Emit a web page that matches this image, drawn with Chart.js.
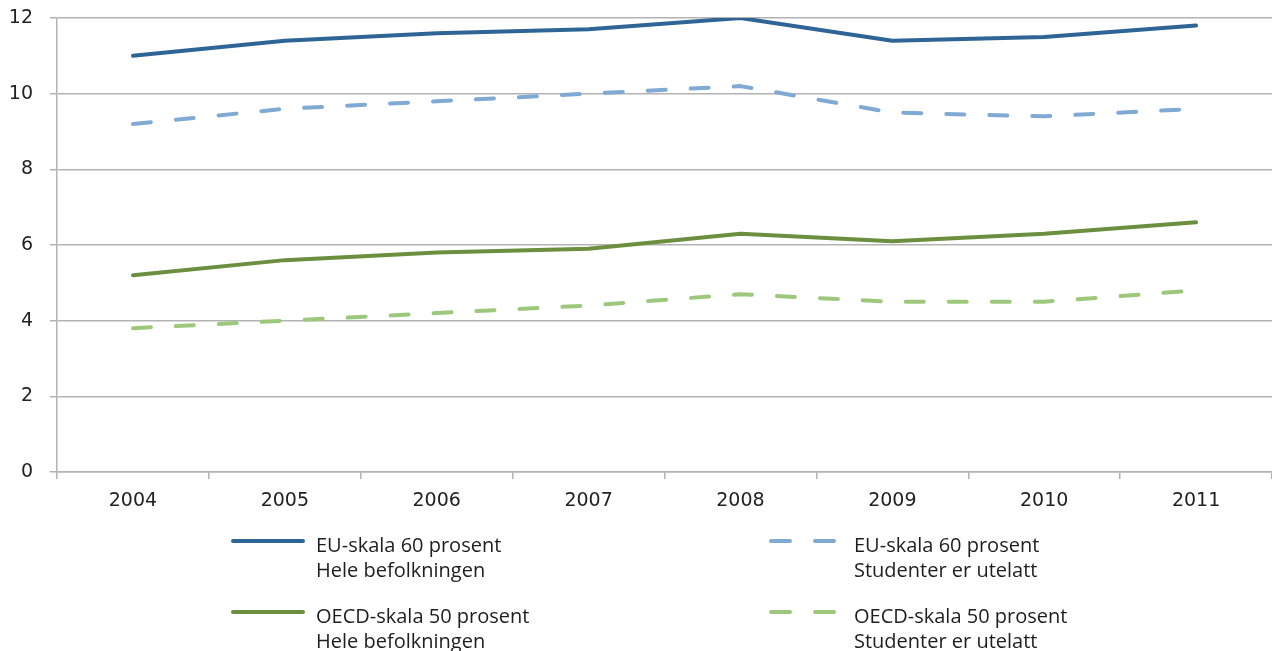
<!DOCTYPE html>
<html>
<head>
<meta charset="utf-8">
<script src="https://cdn.jsdelivr.net/npm/chart.js@4/dist/chart.umd.min.js"></script>
<style>
  html, body { margin: 0; padding: 0; background: #fff; }
  #wrap { width: 1272px; height: 651px; }
</style>
</head>
<body>
<div id="wrap"><canvas id="myChart"></canvas></div>
<script>
const years = ["2004", "2005", "2006", "2007", "2008", "2009", "2010", "2011"];

const euAll = [11.0, 11.4, 11.6, 11.7, 12.0, 11.4, 11.5, 11.8];
const euNoStudents = [9.2, 9.6, 9.8, 10.0, 10.2, 9.5, 9.4, 9.6];
const oecdAll = [5.2, 5.6, 5.8, 5.9, 6.3, 6.1, 6.3, 6.6];
const oecdNoStudents = [3.8, 4.0, 4.2, 4.4, 4.7, 4.5, 4.5, 4.8];

const seriesLabels = [
	["EU-skala 60 prosent", "Hele befolkningen"],
	["EU-skala 60 prosent", "Studenter er utelatt"],
	["OECD-skala 50 prosent", "Hele befolkningen"],
	["OECD-skala 50 prosent", "Studenter er utelatt"],
];

const yTicks = [0, 2, 4, 6, 8, 10, 12];

const gridColor = "#b3b3b3";
const tickFont = { family: "DejaVu Sans", size: 19 };

// legend drawn under the plot, two columns, two-line labels
const legendBelow = {
	id: "legendBelow",
	afterDraw(chart) {
		const ctx = chart.ctx;
		const slots = [
			{ x: 233, y: 541 },
			{ x: 771, y: 541 },
			{ x: 233, y: 612 },
			{ x: 771, y: 612 },
		];
		ctx.save();
		chart.data.datasets.forEach((ds, i) => {
			const s = slots[i];
			ctx.strokeStyle = ds.borderColor;
			ctx.lineWidth = 4;
			ctx.lineCap = "round";
			ctx.setLineDash(ds.borderDash.length ? [19, 25] : []);
			ctx.beginPath();
			ctx.moveTo(s.x, s.y);
			ctx.lineTo(s.x + 70, s.y);
			ctx.stroke();
			ctx.setLineDash([]);
			ctx.fillStyle = "#1e1e1e";
			ctx.font = "20px 'Open Sans'";
			ctx.textBaseline = "alphabetic";
			ds.label.forEach((line, k) => {
				ctx.fillText(line, s.x + 83, s.y + 11 + k * 24.5);
			});
		});
		ctx.restore();
	},
};

new Chart(document.getElementById("myChart"), {
	type: "line",
	data: {
		labels: years,
		datasets: [
			{
				label: seriesLabels[0],
				data: euAll,
				borderColor: "#2f6596",
				borderDash: [],
			},
			{
				label: seriesLabels[1],
				data: euNoStudents,
				borderColor: "#80a9d4",
				borderDash: [18, 25],
			},
			{
				label: seriesLabels[2],
				data: oecdAll,
				borderColor: "#6c8f3f",
				borderDash: [],
			},
			{
				label: seriesLabels[3],
				data: oecdNoStudents,
				borderColor: "#9dc87c",
				borderDash: [18, 25],
			},
		],
	},
	options: {
		responsive: true,
		maintainAspectRatio: false,
		animation: false,
		layout: {
			padding: { top: 18, right: 0, bottom: 0, left: 0 },
		},
		elements: {
			line: {
				borderWidth: 4,
				tension: 0,
				borderCapStyle: "round",
				borderJoinStyle: "round",
			},
			point: { radius: 0, hoverRadius: 0 },
		},
		scales: {
			x: {
				offset: true,
				afterFit: (s) => {
					s.height = 179;
				},
				grid: {
					offset: true,
					drawOnChartArea: false,
					drawTicks: true,
					tickLength: 7,
					color: gridColor,
					lineWidth: 1.5,
				},
				border: { color: gridColor, width: 1.5 },
				ticks: {
					color: "#222",
					font: tickFont,
					padding: 11,
					maxRotation: 0,
				},
			},
			y: {
				min: 0,
				max: 12,
				afterFit: (s) => {
					s.width = 57;
					// tick padding would otherwise push the plot top down
					s.paddingTop = 0;
					s.paddingBottom = 0;
				},
				afterBuildTicks: (s) => {
					s.ticks = yTicks.map((v) => ({ value: v }));
				},
				grid: {
					color: gridColor,
					lineWidth: 1.5,
					tickLength: 7,
				},
				border: { color: gridColor, width: 1.5 },
				ticks: {
					color: "#222",
					font: tickFont,
					padding: 17,
				},
			},
		},
		plugins: {
			legend: { display: false },
			tooltip: { enabled: false },
		},
	},
	plugins: [legendBelow],
});
</script>
</body>
</html>
